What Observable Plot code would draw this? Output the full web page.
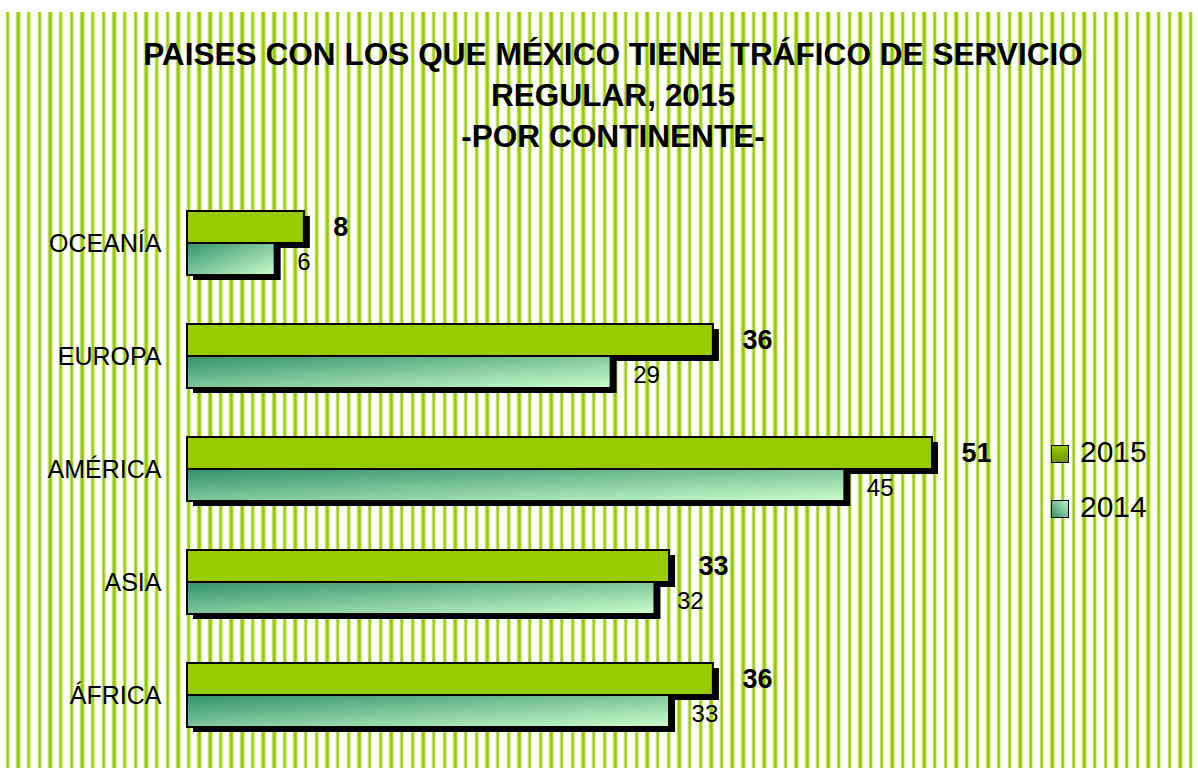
<!DOCTYPE html>
<html>
<head>
<meta charset="utf-8">
<script src="https://cdn.jsdelivr.net/npm/d3@7"></script>
<script src="https://cdn.jsdelivr.net/npm/@observablehq/plot@0.6"></script>
<style>
  html, body { margin: 0; padding: 0; background: #fff; }
  #wrap { position: relative; width: 1198px; height: 768px; overflow: hidden; font-family: "Liberation Sans", Arial, sans-serif; }
  #stripes { position: absolute; left: 0; top: 12px; width: 1198px; height: 756px;
    background-image: repeating-linear-gradient(90deg,
      #fff 0px, #fff 4.6px,
      #dceea4 4.6px, #dceea4 5.6px,
      #99cc00 5.6px, #99cc00 8.0px,
      #c8e372 8.0px, #c8e372 9.0px,
      #fff 9.0px, #fff 10.66px);
    background-position: 0.6px 0; }
  #title { position: relative; box-sizing: border-box; width: 1198px; height: 190px; padding-top: 34px; padding-left: 28px;
    text-align: center; font-weight: bold; font-size: 31.6px; line-height: 41px; color: #000; }
  #chart { position: relative; }
  #legend { position: absolute; left: 1051px; top: 440px; font-size: 30px; color: #000; }
  .item { position: absolute; left: 0; height: 30px; white-space: nowrap; }
  .sw { position: absolute; left: 0; width: 16px; height: 16px; border: 1.5px solid #000; }
  .lt { position: absolute; left: 29px; top: -3px; line-height: 30px; }
</style>
</head>
<body>
<div id="wrap">
  <div id="stripes"></div>
  <div id="title">PAISES CON LOS QUE MÉXICO TIENE TRÁFICO DE SERVICIO<br>REGULAR, 2015<br>-POR CONTINENTE-</div>
  <div id="chart"></div>
  <div id="legend"></div>
</div>
<script>
const continents = ["OCEANÍA", "EUROPA", "AMÉRICA", "ASIA", "ÁFRICA"];
const values2015 = [8, 36, 51, 33, 36];
const values2014 = [6, 29, 45, 32, 33];
const seriesNames = ["2015", "2014"];

const d2015 = continents.map((c, i) => ({cont: c, v: values2015[i]}));
const d2014 = continents.map((c, i) => ({cont: c, v: values2014[i]}));

const defs = () => {
  const g = d3.create("svg:defs");
  const lg = g.append("linearGradient").attr("id", "g2014")
    .attr("x1", 0).attr("y1", 0).attr("x2", 1).attr("y2", 1);
  lg.append("stop").attr("offset", "0%").attr("stop-color", "#33916a");
  lg.append("stop").attr("offset", "100%").attr("stop-color", "#ccffcc");
  return g.node();
};

const half = 32;
const chart = Plot.plot({
  width: 1198,
  height: 578,
  marginLeft: 187,
  marginRight: 266,
  marginTop: 21,
  marginBottom: 41,
  style: {background: "transparent", fontFamily: "Liberation Sans, Arial, sans-serif", overflow: "visible"},
  x: {domain: [0, 51], axis: null},
  y: {domain: continents, paddingInner: 0.434, paddingOuter: 0, label: null},
  marks: [
    defs,
    Plot.axisY({tickSize: 0, tickPadding: 26, fontSize: 25, fill: "#000", label: null}),
    // 2015 shadow + bar
    Plot.barX(d2015, {x: "v", y: "cont", insetBottom: half, fill: "#000", dx: 6, dy: 5}),
    Plot.barX(d2015, {x: "v", y: "cont", insetBottom: half, fill: "#99cc00", stroke: "#000", strokeWidth: 2}),
    // 2014 shadow + bar
    Plot.barX(d2014, {x: "v", y: "cont", insetTop: half, fill: "#000", dx: 6, dy: 5}),
    Plot.barX(d2014, {x: "v", y: "cont", insetTop: half, fill: "url(#g2014)", stroke: "#000", strokeWidth: 2}),
    Plot.text(d2015, {x: "v", y: "cont", text: d => String(d.v), dx: 29, dy: -16, textAnchor: "start",
      fontWeight: "bold", fontSize: 27, fill: "#000"}),
    Plot.text(d2014, {x: "v", y: "cont", text: d => String(d.v), dx: 22, dy: 19, textAnchor: "start",
      fontSize: 24, fill: "#000"})
  ]
});
document.getElementById("chart").appendChild(chart);

const legend = document.getElementById("legend");
const swatchStyles = [
  "background: linear-gradient(180deg, #9acd00 0%, #6f9400 100%);",
  "background: linear-gradient(45deg, #3a9068 0%, #b8f0c8 100%);"
];
seriesNames.forEach((name, i) => {
  const item = document.createElement("div");
  item.className = "item";
  item.style.top = (i * 55) + "px";
  item.innerHTML = `<div class="sw" style="top:5px;${swatchStyles[i]}"></div><div class="lt">${name}</div>`;
  legend.appendChild(item);
});
</script>
</body>
</html>
